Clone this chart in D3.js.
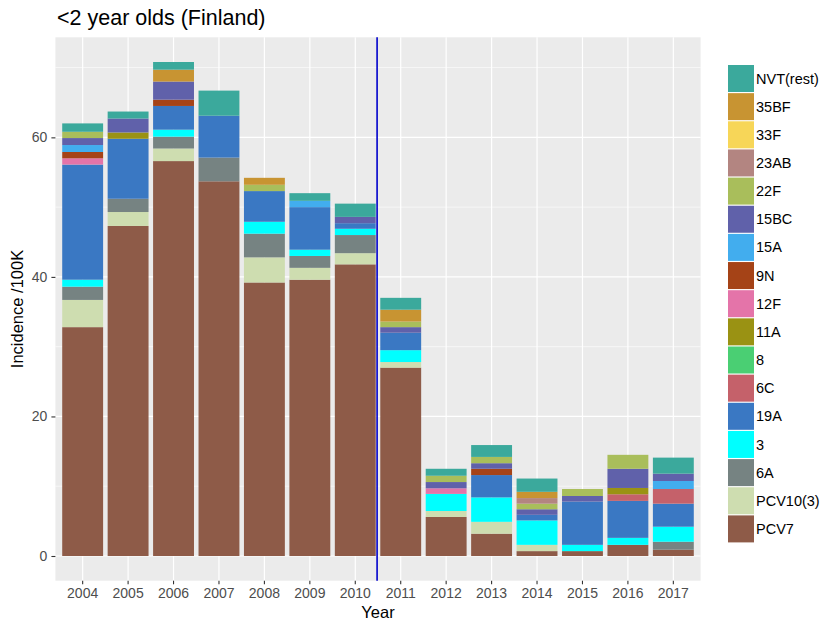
<!DOCTYPE html>
<html><head><meta charset="utf-8">
<script src="https://cdn.jsdelivr.net/npm/d3@7"></script>
<style>body{margin:0;background:#fff}svg{display:block}text{font-family:"Liberation Sans",Arial,sans-serif}</style>
</head><body><svg id="c" width="840" height="635"></svg>
<script>
const years = ["2004","2005","2006","2007","2008","2009","2010","2011","2012","2013","2014","2015","2016","2017"];
const serotypes = ["PCV7","PCV10(3)","6A","3","19A","6C","8","11A","12F","9N","15A","15BC","22F","23AB","33F","35BF","NVT(rest)"];
const colors = ["#8E5B48","#CEDDB0","#768382","#00FFFF","#3A78C3","#C5616A","#4ACF73","#9A9213","#E474A9","#A54317","#42ADEE","#6061AA","#A9BE5B","#B38581","#F7D658","#C89432","#3BA99C"];
// values per serotype, one entry per year (2004..2017)
const PCV7     = [32.8,47.3,56.6,53.7,39.2,39.6,41.8,27.0,5.6,3.2,0.7,0.7,1.6,0.9];
const PCV10_3  = [3.9,2.0,1.8,0,3.6,1.7,1.6,0.8,0.85,1.7,0.9,0,0,0];
const s6A      = [1.9,1.9,1.7,3.4,3.4,1.7,2.6,0,0,0,0,0,0,1.15];
const s3       = [1.0,0,1.0,0,1.7,0.9,0.9,1.7,2.45,3.5,3.5,0.9,1.0,2.15];
const s19A     = [16.5,8.6,3.4,6.0,4.4,6.1,0.8,2.5,0,3.2,0.8,6.2,5.3,3.3];
const s6C      = [0,0,0,0,0,0,0,0,0,0,0,0,0.95,2.1];
const s8       = [0,0,0,0,0,0,0,0,0,0,0,0,0,0];
const s11A     = [0,0.9,0,0,0,0,0,0,0,0,0,0,0.9,0];
const s12F     = [0.9,0,0,0,0,0,0,0,0.8,0,0,0,0,0];
const s9N      = [0.9,0,0.9,0,0,0,0,0,0,0.9,0,0,0,0];
const s15A     = [1.0,0,0,0,0,0.9,0,0,0,0,0,0,0,1.15];
const s15BC    = [1.0,2.0,2.6,0,0,0,0.9,0.8,0.9,0.8,0.8,0.8,2.75,1.05];
const s22F     = [0.9,0,0,0,0.9,0,0,0.8,0.9,0.9,0.8,1.0,2.0,0];
const s23AB    = [0,0,0,0,0,0,0,0,0,0,0.8,0,0,0];
const s33F     = [0,0,0,0,0,0,0,0,0,0,0,0,0,0];
const s35BF    = [0,0,1.7,0,1.0,0,0,1.7,0,0,0.9,0,0,0];
const NVTrest  = [1.2,1.0,1.1,3.6,0,1.1,1.9,1.7,1.0,1.7,1.9,0,0,2.3];
const seriesValues = [PCV7,PCV10_3,s6A,s3,s19A,s6C,s8,s11A,s12F,s9N,s15A,s15BC,s22F,s23AB,s33F,s35BF,NVTrest];
const yTicks = [0,20,40,60];
const yMinor = [10,30,50,70];
const vlineYear = 2010.48;

const rows = years.map((y,i)=>{const o={year:y};serotypes.forEach((s,j)=>o[s]=seriesValues[j][i]);return o;});
const stack = d3.stack().keys(serotypes)(rows);
const maxV = d3.max(rows, r=>d3.sum(serotypes, s=>r[s]));

const svg = d3.select("#c");
const L=55.4,R=700.6,T=37.3,B=580.7;
const x = d3.scaleBand().domain(years).range([L,R]).paddingInner(0.1).paddingOuter(0.15);
const pad = maxV*0.05;
const y = d3.scaleLinear().domain([-pad, maxV+pad]).range([B,T]);
const col = d3.scaleOrdinal().domain(serotypes).range(colors);

svg.append("rect").attr("x",L).attr("y",T).attr("width",R-L).attr("height",B-T).attr("fill","#EBEBEB");
const g = svg.append("g");
yMinor.forEach(v=>g.append("line").attr("x1",L).attr("x2",R).attr("y1",y(v)).attr("y2",y(v)).attr("stroke","#fff").attr("stroke-width",0.6));
yTicks.forEach(v=>g.append("line").attr("x1",L).attr("x2",R).attr("y1",y(v)).attr("y2",y(v)).attr("stroke","#fff").attr("stroke-width",1.2));
years.forEach(v=>g.append("line").attr("x1",x(v)+x.bandwidth()/2).attr("x2",x(v)+x.bandwidth()/2).attr("y1",T).attr("y2",B).attr("stroke","#fff").attr("stroke-width",1.2));

svg.append("g").selectAll("g").data(stack).join("g").attr("fill",d=>col(d.key))
  .selectAll("rect").data(d=>d).join("rect")
  .attr("x",d=>x(d.data.year)).attr("width",x.bandwidth())
  .attr("y",d=>y(d[1])).attr("height",d=>Math.max(0,y(d[0])-y(d[1])));

// vertical line
const xYear = v=>{const i0=Math.floor(v)-2004;const c0=x(years[i0])+x.bandwidth()/2;return c0+(v-Math.floor(v))*x.step();};
svg.append("line").attr("x1",xYear(vlineYear)).attr("x2",xYear(vlineYear)).attr("y1",T).attr("y2",B).attr("stroke","#0000CC").attr("stroke-width",1.6);

// axes
const ya = svg.append("g").attr("transform",`translate(${L},0)`).call(d3.axisLeft(y).tickValues(yTicks).tickSize(4).tickPadding(4));
const xa = svg.append("g").attr("transform",`translate(0,${B})`).call(d3.axisBottom(x).tickSize(3.6).tickPadding(4));
[ya,xa].forEach(a=>{a.select(".domain").remove();a.selectAll("line").attr("stroke","#333").attr("stroke-width",1.1);a.selectAll("text").attr("fill","#4D4D4D").style("font-size","14px").style("font-family","'Liberation Sans',Arial,sans-serif");});

svg.append("text").attr("x",57).attr("y",25).attr("font-size","21.5px").attr("fill","#000").text("<2 year olds (Finland)");
svg.append("text").attr("x",(L+R)/2).attr("y",618).attr("text-anchor","middle").attr("font-size","16.5px").attr("fill","#000").text("Year");
svg.append("text").attr("transform",`translate(23,${(T+B)/2}) rotate(-90)`).attr("text-anchor","middle").attr("font-size","16.5px").attr("fill","#000").text("Incidence /100K");

// legend
const legKeys = serotypes.slice().reverse();
const lg = svg.append("g").attr("transform","translate(728,65)");
legKeys.forEach((k,i)=>{
  lg.append("rect").attr("x",0).attr("y",i*28.15).attr("width",26).attr("height",27).attr("fill",col(k));
  lg.append("text").attr("x",28).attr("y",i*28.15+13.5).attr("dy","0.35em").attr("font-size","14.5px").attr("fill","#000").text(k);
});
</script></body></html>
